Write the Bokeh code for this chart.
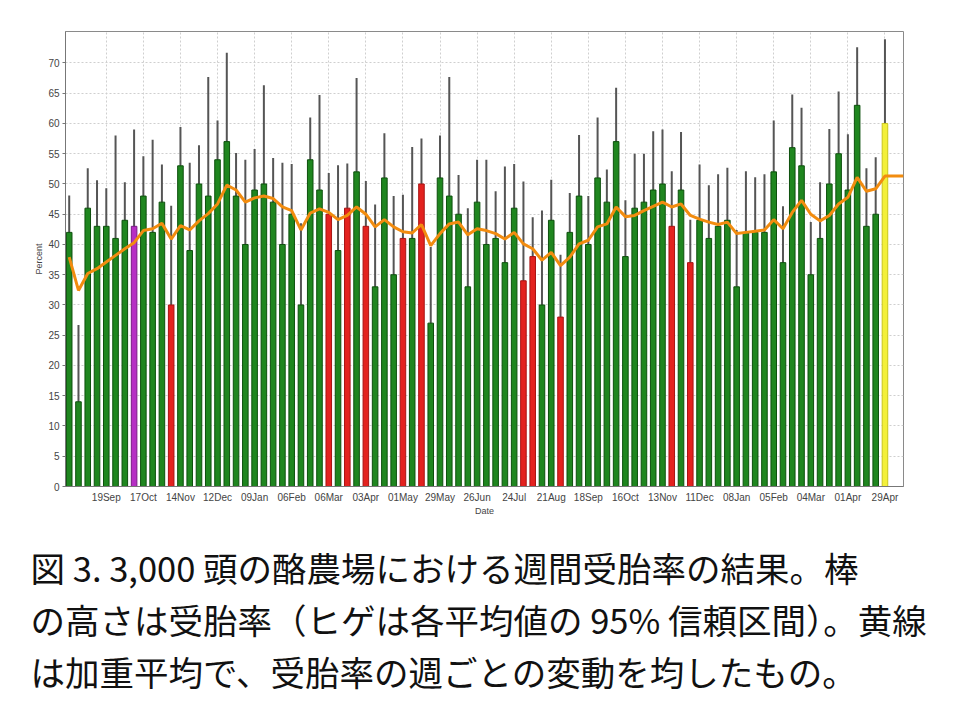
from bokeh.plotting import figure
from bokeh.models import Range1d, FixedTicker, ColumnDataSource, Title
from bokeh.embed import file_html
from bokeh.resources import INLINE

# ---- data (weekly conception rate, 22Aug .. 29Apr) ----
tick_labels = ["19Sep", "17Oct", "14Nov", "12Dec", "09Jan", "06Feb", "06Mar", "03Apr",
               "01May", "29May", "26Jun", "24Jul", "21Aug", "18Sep", "16Oct", "13Nov",
               "11Dec", "08Jan", "05Feb", "04Mar", "01Apr", "29Apr"]
tick_every = 4

rate = [42, 14, 46, 43, 43, 41, 44, 43, 48, 42, 47,
        30, 53, 39, 50, 48, 54, 57, 48, 40, 49, 50, 47,
        40, 45, 30, 54, 49, 45, 39, 46, 52, 43, 33,
        51, 35, 41, 41, 50, 27, 51, 48, 45, 33, 47,
        40, 41, 37, 46, 34, 38, 30, 44, 28, 42, 48,
        40, 51, 47, 57, 38, 46, 47, 49, 50, 43, 49,
        37, 44, 41, 43, 44, 33, 42, 42, 42, 52, 37,
        56, 53, 35, 41, 50, 55, 49, 63, 43, 45, 60]

upper = [48.1, 26.7, 52.6, 50.6, 49.3, 58, 50.3, 59, 54.6, 57.3, 53.2,
         46.4, 59.4, 53.5, 56.4, 67.7, 60.5, 71.7, 55.1, 54, 55.8, 66.3, 54.3,
         53.5, 53.3, 43.5, 61, 64.7, 51.8, 53.1, 53.4, 67.5, 50.5, 46.6,
         58.4, 48, 48.2, 56.1, 57.5, 39.6, 58, 67.7, 51.5, 46, 54,
         54, 48.8, 52.9, 53.3, 50.4, 44.5, 45.6, 50.7, 38.3, 48.5, 58.1,
         48, 61, 52.4, 65.9, 47.3, 55, 55, 58.7, 59, 52.1, 58.6,
         44.1, 53.2, 49.8, 51.6, 52.7, 42.4, 52.1, 51.1, 51.6, 60.5, 46.3,
         64.8, 62.6, 43.7, 50.3, 59.1, 65.3, 58.2, 72.6, 52.6, 54.4, 73.9]

# weighted average (last value projected for the following weeks)
wavg = [37.9, 32.4, 35.2, 36, 37.1, 38.2, 39.3, 40.3, 42.3, 42.6, 43.5,
        40.9, 43.1, 42.4, 43.9, 45.1, 46.7, 49.8, 49, 47, 47.7, 48, 47.6,
        46.2, 45.6, 42.4, 45.2, 45.9, 45.3, 44.1, 44.8, 46.2, 45, 42.9,
        44.1, 42.9, 42.1, 41.9, 43.3, 39.8, 41.8, 43.4, 43.7, 41.6, 42.6,
        42.3, 41.8, 40.9, 42, 40.1, 39.3, 37.4, 38.7, 36.5, 37.9, 40.1,
        40.7, 42.9, 43.4, 46.2, 44.6, 44.8, 45.6, 46.3, 47, 46.2, 46.7,
        44.8, 44.2, 43.7, 43.3, 43.7, 41.8, 42, 42.2, 42.4, 44.1, 42.6,
        45.3, 47.3, 45, 43.9, 44.8, 46.7, 47.8, 51.1, 48.8, 49.2, 51.3,
        51.3, 51.3]

# G = normal, R = significantly low, P = marked week, Y = current week
status = list("GGGGGGG" "P" "GGG" "R" "GGGGGGGGGGGGGGGG" "R" "G" "R" "G" "R" "GGG" "R" "G" "R"
              "GGGGGGGGGG" "RR" "GG" "R" "GGGGGGGGGGG" "R" "G" "R"
              "GGGGGGGGGGGGGGGGGGGG" "Y")

fill_map = {"G": "#1f861f", "R": "#e3221f", "P": "#b62ec4", "Y": "#f3f03a"}
line_map = {"G": "#0d500d", "R": "#a81414", "P": "#7a1a86", "Y": "#c9c61e"}

caption_lines = [
    "図 3. 3,000 頭の酪農場における週間受胎率の結果。棒",
    "の高さは受胎率（ヒゲは各平均値の 95% 信頼区間）。黄線",
    "は加重平均で、受胎率の週ごとの変動を均したもの。",
]

# ---- sources ----
n = len(rate)
xs = list(range(n))
lower = [max(0.0, 2 * r - u) for r, u in zip(rate, upper)]
bars = ColumnDataSource(dict(
    x=xs, top=rate, upper=upper, lower=lower,
    fill=[fill_map[s] for s in status], line=[line_map[s] for s in status]))
avg = ColumnDataSource(dict(x=list(range(len(wavg))), y=wavg))

tick_pos = [tick_every * (i + 1) for i in range(len(tick_labels))]

# ---- chart ----
W, H = 944, 704
FL, FT, FR, FB = 65, 31, 903, 486   # frame edges in canvas pixels
p = figure(width=W, height=H, x_range=Range1d(-0.4, 90), y_range=Range1d(0, 75.2),
           output_backend="svg", toolbar_location=None,
           min_border_left=FL, min_border_right=W - FR, min_border_top=FT,
           min_border_bottom=H - FB)

p.segment(x0="x", y0="lower", x1="x", y1="upper", source=bars,
          line_color="#555555", line_width=2)
p.vbar(x="x", top="top", bottom=0, width=0.6, source=bars,
       fill_color="fill", line_color="line", line_width=1)
p.line(x="x", y="y", source=avg, line_color="#f28c0f", line_width=3)

p.xaxis.ticker = FixedTicker(ticks=tick_pos)
p.xaxis.major_label_overrides = {t: l for t, l in zip(tick_pos, tick_labels)}
p.xaxis.major_tick_out = 0
p.xaxis.major_tick_in = 0
p.xaxis.minor_tick_line_color = None
p.xaxis.major_label_standoff = 5
p.xaxis.axis_label = "Date"
p.xaxis.axis_label_standoff = 0

p.yaxis.ticker = FixedTicker(ticks=list(range(0, 71, 5)))
p.yaxis.major_tick_out = 3
p.yaxis.major_tick_in = 0
p.yaxis.minor_tick_line_color = None
p.yaxis.major_label_standoff = 3
p.yaxis.axis_label = "Percent"
p.yaxis.axis_label_standoff = 1

for ax in (p.xaxis[0], p.yaxis[0]):
    ax.axis_line_color = "#777777"
    ax.major_tick_line_color = "#777777"
    ax.major_label_text_font = "Liberation Sans"
    ax.major_label_text_font_size = "10px"
    ax.major_label_text_color = "#444444"
    ax.axis_label_text_font = "Liberation Sans"
    ax.axis_label_text_font_size = "9px"
    ax.axis_label_text_font_style = "normal"
    ax.axis_label_text_color = "#444444"

p.xgrid.ticker = FixedTicker(ticks=tick_pos)
p.ygrid.ticker = FixedTicker(ticks=list(range(0, 71, 5)))
for g in (p.xgrid[0], p.ygrid[0]):
    g.grid_line_color = "#cfcfcf"
    g.grid_line_dash = "2 2"
    g.grid_line_width = 1

p.outline_line_color = "#8a8a8a"
p.outline_line_width = 1
p.background_fill_color = "white"
p.border_fill_color = "white"

# ---- caption as stacked titles below the x axis ----
p.add_layout(Title(text=" ", text_font_size="15px", standoff=2), "below")  # gap above caption
for line in caption_lines:
    p.add_layout(Title(text=line, align="left", offset=30 - FL, standoff=0,
                       text_font="Noto Sans CJK JP", text_font_size="34.5px",
                       text_font_style="normal", text_color="#111111"), "below")

open("out.html", "w").write(file_html(p, INLINE))
